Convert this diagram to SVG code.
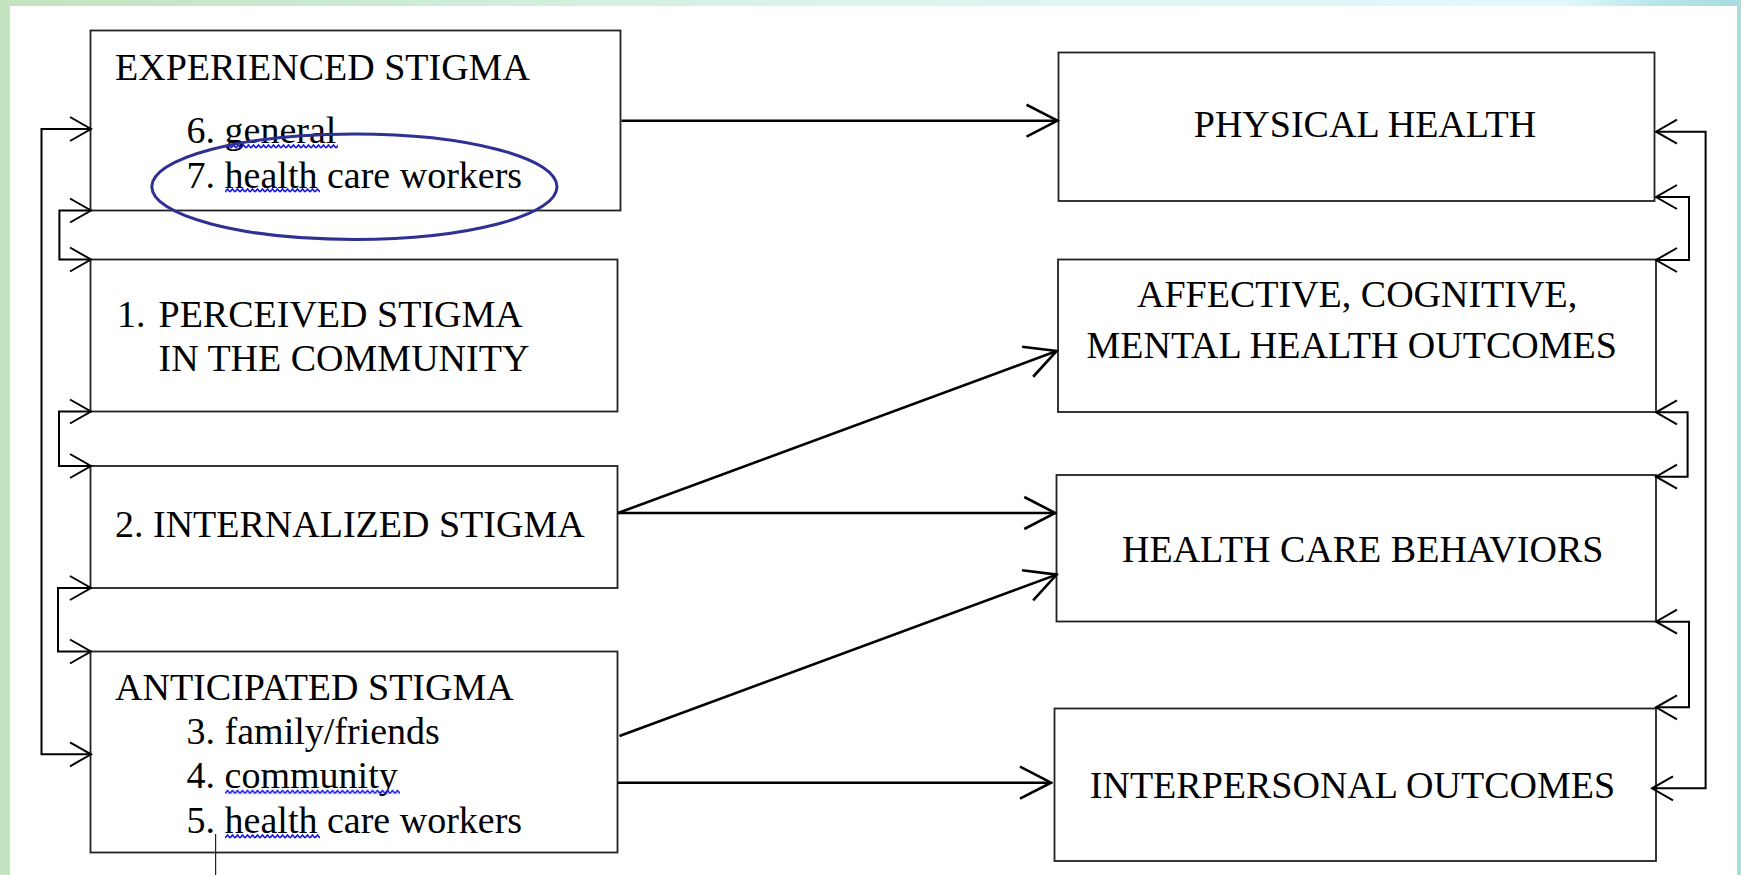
<svg xmlns="http://www.w3.org/2000/svg" width="1741" height="875" viewBox="0 0 1741 875">
  <style>
    .box { fill: #ffffff; stroke: #222222; stroke-width: 1.8; }
    .t { font-family: "Liberation Serif", "Times New Roman", serif; font-size: 38px; fill: #000000; }
    .side { fill: none; stroke: #000000; stroke-width: 2; marker-start: url(#sm); marker-end: url(#sm); }
    .main { fill: none; stroke: #000000; stroke-width: 2.6; marker-end: url(#lg); }
    .wave { fill: url(#squiggle); }
  </style>
  <defs>
    <linearGradient id="topband" x1="0" y1="0" x2="1" y2="0">
      <stop offset="0" stop-color="#c0e4bf"/>
      <stop offset="0.45" stop-color="#d9f3ea"/>
      <stop offset="0.6" stop-color="#def6f2"/>
      <stop offset="0.9" stop-color="#e0f8fc"/>
      <stop offset="0.95" stop-color="#b8e6ea"/>
      <stop offset="1" stop-color="#a8dce0"/>
    </linearGradient>
    <marker id="sm" markerUnits="userSpaceOnUse" viewBox="0 0 24 28" refX="22" refY="14" markerWidth="24" markerHeight="28" orient="auto-start-reverse">
      <path d="M1,2 L22,14 L1,26" fill="none" stroke="#000000" stroke-width="2"/>
    </marker>
    <marker id="lg" markerUnits="userSpaceOnUse" viewBox="0 0 34 36" refX="32" refY="18" markerWidth="34" markerHeight="36" orient="auto">
      <path d="M1,2 L32,18 L1,34" fill="none" stroke="#000000" stroke-width="2.6"/>
    </marker>
    <pattern id="squiggle" patternUnits="userSpaceOnUse" width="5" height="5">
      <path d="M0,4 L2.5,1 L5,4" fill="none" stroke="#1414e6" stroke-width="1.6"/>
    </pattern>
  </defs>

  <g id="background">
    <rect x="0" y="0" width="1741" height="875" fill="url(#topband)"/>
    <rect x="0" y="0" width="10" height="875" fill="#c2e5bf"/>
    <rect x="1737" y="0" width="4" height="875" fill="#aadedc"/>
    <rect x="10" y="6" width="1727" height="869" fill="#ffffff"/>
  </g>

  <g id="experienced">
    <rect class="box" x="90.5" y="30.5" width="530" height="180"/>
    <text class="t" x="115" y="80">EXPERIENCED STIGMA</text>
    <text class="t" x="186.6" y="142.7">6. general</text>
    <text class="t" x="186.6" y="187.7">7. health care workers</text>
    <rect class="wave" transform="translate(226,144)" width="112" height="5"/>
    <rect class="wave" transform="translate(225,188)" width="95" height="5"/>
  </g>

  <g id="perceived">
    <rect class="box" x="90.5" y="259.5" width="527" height="152"/>
    <text class="t" y="326.7"><tspan x="117">1.</tspan><tspan x="158.5">PERCEIVED STIGMA</tspan></text>
    <text class="t" x="158.5" y="370.7">IN THE COMMUNITY</text>
  </g>

  <g id="internalized">
    <rect class="box" x="90.5" y="466" width="527" height="122"/>
    <text class="t" x="115" y="537.3">2. INTERNALIZED STIGMA</text>
  </g>

  <g id="anticipated">
    <rect class="box" x="90.5" y="651.5" width="527" height="201"/>
    <text class="t" x="115" y="700">ANTICIPATED STIGMA</text>
    <text class="t" x="186.6" y="744.3">3. family/friends</text>
    <text class="t" x="186.6" y="788.3">4. community</text>
    <text class="t" x="186.6" y="833.3">5. health care workers</text>
    <rect class="wave" transform="translate(225,789.5)" width="175" height="5"/>
    <rect class="wave" transform="translate(225,834)" width="95" height="5"/>
  </g>

  <g id="physical">
    <rect class="box" x="1058.5" y="52.5" width="596" height="148.5"/>
    <text class="t" x="1193.8" y="137.3">PHYSICAL HEALTH</text>
  </g>

  <g id="affective">
    <rect class="box" x="1058" y="259.5" width="598" height="152.5"/>
    <text class="t" x="1137" y="307.3">AFFECTIVE, COGNITIVE,</text>
    <text class="t" x="1086.5" y="358.3">MENTAL HEALTH OUTCOMES</text>
  </g>

  <g id="healthcare">
    <rect class="box" x="1056.5" y="475" width="599.5" height="146.5"/>
    <text class="t" x="1122" y="561.7">HEALTH CARE BEHAVIORS</text>
  </g>

  <g id="interpersonal">
    <rect class="box" x="1054.5" y="708.5" width="601.5" height="152.5"/>
    <text class="t" x="1089.8" y="798.3">INTERPERSONAL OUTCOMES</text>
  </g>

  <g id="connectors">
    <!-- left feedback loops -->
    <path class="side" d="M91,129 H41.5 V754.3 H91"/>
    <path class="side" d="M91,210.5 H59.4 V259.5 H91"/>
    <path class="side" d="M91,411.5 H59 V466 H91"/>
    <path class="side" d="M91,588 H58 V651.5 H91"/>
    <!-- right feedback loops -->
    <path class="side" d="M1656,131.7 H1705.6 V788.3 H1652"/>
    <path class="side" d="M1656,197 H1689 V260 H1656"/>
    <path class="side" d="M1656,412.3 H1687.6 V476.7 H1656"/>
    <path class="side" d="M1656,621.7 H1689 V707.3 H1656"/>
    <!-- main arrows -->
    <path class="main" d="M621.5,120.7 H1057.5"/>
    <path class="main" d="M618,513 L1056.7,351"/>
    <path class="main" d="M618,513 H1055.3"/>
    <path class="main" d="M619.5,736 L1056.7,574.6"/>
    <path class="main" d="M618,782.7 H1051"/>
  </g>

  <g id="annotation">
    <ellipse cx="354.4" cy="186.7" rx="202.6" ry="52.7" fill="none" stroke="#2e3192" stroke-width="3"/>
    <line x1="215.6" y1="834" x2="215.6" y2="875" stroke="#222222" stroke-width="1.2"/>
  </g>
</svg>
